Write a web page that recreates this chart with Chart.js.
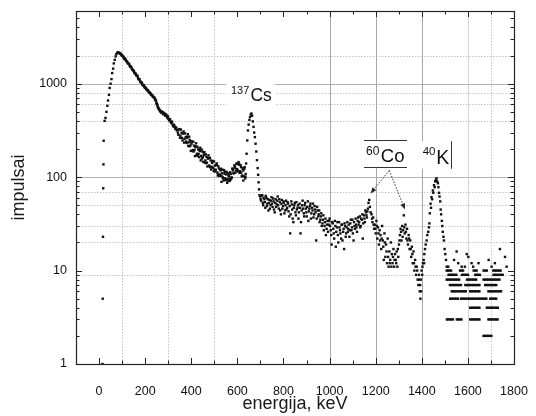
<!DOCTYPE html>
<html><head><meta charset="utf-8">
<script src="https://cdn.jsdelivr.net/npm/chart.js@4.4.1/dist/chart.umd.min.js"></script>
<style>html,body{margin:0;padding:0;background:#fff;}canvas{display:block;}</style>
</head><body>
<canvas id="c" width="536" height="416"></canvas>
<script>
// ---------- tick / grid values ----------
const xTickValues = [0,200,400,600,800,1000,1200,1400,1600,1800];
const xMinorTickValues = [-100,100,300,500,700,900,1100,1300,1500,1700];
const yTickValues = [1,10,100,1000];
const yMinorTickValues = [2,3,4,5,6,7,8,9,20,30,40,50,60,70,80,90,200,300,400,500,600,700,800,900,2000,3000,4000,5000];
const xGridSolid = [1000,1200,1400];
const xGridLight = [1600];
const xGridDotted = [100,300,500,1700];
const yGridSolid = [100,1000];
const yGridDotted = [2000,800,600,400,70,50,30,20,9];

// ---------- spectrum data [energy keV, counts] ----------
const riseData = [[15,1],[16,5],[17,23],[18,76],[19,137],[20,245],[24,400],[28,430],[32,500],[36,580],[39,661],[43,760],[46,900],[50,1000],[54,1120],[57,1300],[61,1450],[64,1650],[68,1800],[72,1960],[75,2070],[79,2140]];
const comptonData = [[82,2170],[86,2150],[90,2110],[95,2080],[99,2000],[104,1970],[108,1880],[113,1860],[117,1770],[122,1720],[126,1650],[131,1610],[135,1520],[140,1500],[144,1420],[149,1390],[153,1310],[158,1290],[162,1230],[167,1210],[171,1120],[176,1110],[180,1040],[185,1030],[189,970],[194,965],[198,915],[203,905],[207,860],[212,855],[216,815],[221,800],[225,770],[230,755],[234,725],[239,715],[243,680],[247,660],[250,610],[253,590],[256,555],[260,535],[264,515],[268,500],[272,505],[277,480],[281,488],[286,460],[290,470],[295,440],[299,447],[304,405],[308,418],[313,380],[317,392],[322,350],[326,362],[331,328],[335,340],[340,318],[344,284],[349,327],[353,278],[358,299],[362,247],[367,308],[371,256],[376,269],[380,232],[385,288],[389,236],[394,250],[398,191],[403,241],[407,195],[412,217],[416,168],[421,230],[425,178],[430,198],[434,164],[439,206],[443,169],[448,188],[452,146],[457,185],[461,151],[466,165],[470,130],[475,171],[479,131],[484,151],[488,129],[493,149],[497,116],[502,133],[506,120],[511,140],[515,104],[520,124],[524,106],[529,123],[531,89],[533,110],[538,97],[542,119],[547,97],[551,107],[556,87],[560,110],[565,96],[569,113],[574,99],[578,123],[583,110],[587,134],[592,112],[596,140],[601,118],[605,145],[610,111],[614,134],[619,102],[623,123],[626,92],[630,123],[634,97],[636,108]];
const comptonDataB = [[88,2130],[92,2100],[97,2030],[101,1990],[106,1920],[110,1840],[115,1800],[119,1740],[124,1670],[128,1640],[133,1560],[137,1530],[142,1450],[146,1400],[151,1360],[155,1300],[160,1250],[164,1220],[169,1150],[173,1120],[178,1060],[182,1040],[187,995],[191,960],[196,935],[200,900],[205,880],[209,850],[214,830],[218,800],[223,785],[227,760],[232,740],[236,720],[241,700],[245,665],[249,625],[252,600],[255,565],[258,545],[262,525],[266,505],[270,490],[275,495],[279,470],[283,482],[288,455],[292,462],[297,430],[301,420],[306,412],[310,395],[315,385],[319,365],[324,356],[328,345],[333,335],[337,318],[342,299],[346,324],[351,264],[355,323],[360,263],[364,292],[369,234],[373,294],[378,240],[382,270],[387,216],[391,271],[396,217],[400,240],[405,191],[409,239],[414,195],[418,209],[423,171],[427,211],[432,177],[436,195],[441,151],[445,197],[450,163],[454,183],[459,143],[463,175],[468,143],[472,160],[477,133],[481,161],[486,121],[490,142],[495,126],[499,147],[504,115],[508,134],[513,112],[517,131],[522,103],[526,121],[531,103],[535,120],[540,92],[544,109],[549,93],[553,114],[558,92],[562,105],[567,91],[571,108],[576,99],[580,123],[585,110],[589,129],[594,118],[598,138],[603,115],[607,140],[612,116],[616,128],[621,104],[625,125],[628,102],[632,128]];
const comptonDataC = [[383,262],[392,214],[401,228],[410,188],[419,214],[428,170],[437,190],[446,158],[455,172],[464,141],[473,158],[482,128],[491,147],[500,120],[509,137],[518,108],[527,118],[536,100],[545,114],[554,95],[563,102],[572,95],[581,118],[590,126],[599,122],[608,136],[617,112],[626,118],[635,101]];
const csPeakData = [[638,140],[640,178],[643,247],[646,316],[649,365],[652,410],[655,440],[658,468],[661,480],[664,455],[667,395],[670,345],[673,300],[676,268],[679,228],[682,188],[685,152],[688,125],[690,106],[692,88],[694,74],[696,64]];
const plateauData = [[699,62],[703,56],[708,64],[712,50],[717,58],[721,47],[726,60],[730,52],[735,44],[739,57],[744,50],[748,61],[753,48],[757,55],[762,42],[766,58],[771,51],[775,62],[780,46],[784,54],[789,40],[793,57],[798,49],[802,53],[807,44],[811,56],[816,47],[820,52],[825,38],[829,25],[834,55],[838,45],[843,33],[847,50],[852,42],[856,54],[861,47],[865,36],[870,52],[874,25],[879,44],[883,56],[888,41],[892,50],[897,46],[901,38],[906,55],[910,43],[915,49],[919,36],[924,47],[928,52],[933,40],[937,45],[942,21],[946,48],[951,38],[955,44],[960,35],[964,41],[969,32],[973,39],[978,30],[982,36],[987,28],[991,34],[996,31],[1000,36],[1005,27],[1009,19],[1014,32],[1018,25],[1023,34],[1027,18],[1032,29],[1036,24],[1041,33],[1045,27],[1050,22],[1054,31],[1059,26],[1063,17],[1068,30],[1072,25],[1077,33],[1081,28],[1086,23],[1090,32],[1095,27],[1099,35],[1104,21],[1108,30],[1113,36],[1117,29],[1122,34],[1126,31],[1131,38],[1135,30],[1140,35],[1144,22],[1149,39],[1153,33],[1158,42],[1162,37],[1166,46],[1169,53],[1172,57],[1175,48],[1178,42]];
const plateauDataB = [[701,58],[705,63],[710,53],[714,60],[719,54],[723,63],[728,49],[732,58],[737,53],[741,46],[746,56],[750,52],[755,59],[759,45],[764,53],[768,48],[773,56],[777,50],[782,58],[786,44],[791,52],[795,46],[800,55],[804,41],[809,50],[813,45],[818,54],[822,43],[827,49],[831,40],[836,51],[840,36],[845,47],[849,53],[854,39],[858,45],[863,50],[867,42],[872,47],[876,33],[881,50],[885,46],[890,38],[894,53],[899,42],[903,48],[908,34],[912,46],[917,52],[921,41],[926,44],[930,37],[935,49],[939,42],[944,36],[948,44],[953,40],[957,33],[962,38],[966,30],[971,35],[975,27],[980,33],[984,24],[989,31],[993,26],[998,34],[1002,30],[1007,24],[1011,33],[1016,28],[1020,22],[1025,30],[1029,26],[1034,33],[1038,20],[1043,29],[1047,25],[1052,31],[1056,21],[1061,28],[1065,32],[1070,23],[1074,29],[1079,26],[1083,31],[1088,27],[1092,35],[1097,29],[1101,25],[1106,33],[1110,28],[1115,31],[1119,26],[1124,37],[1128,33],[1133,29],[1137,36],[1142,40],[1146,32],[1151,36],[1155,44],[1160,39],[1164,43]];
const coRegionData = [[1182,40],[1186,33],[1189,37],[1193,28],[1196,31],[1200,25],[1203,34],[1207,22],[1210,29],[1214,19],[1217,27],[1221,24],[1224,17],[1228,30],[1231,21],[1235,13],[1238,25],[1242,14],[1245,19],[1249,12],[1252,22],[1256,11],[1259,16],[1263,13],[1266,20],[1270,15],[1273,12],[1277,17],[1280,11],[1284,15],[1287,13],[1291,16],[1294,11],[1298,14],[1301,19],[1305,24],[1308,28],[1312,21],[1315,30],[1319,27],[1322,39],[1326,25],[1329,31],[1333,22],[1336,28],[1340,19],[1343,24],[1347,17],[1350,21],[1354,14],[1357,18],[1361,12],[1364,16],[1368,10],[1371,13],[1375,9],[1378,11],[1382,8],[1385,7],[1388,9],[1391,6],[1394,5],[1396,8],[1399,10],[1402,9],[1405,12],[1408,13],[1411,15]];
const coRegionDataB = [[1184,36],[1191,31],[1198,28],[1205,30],[1212,25],[1219,21],[1226,22],[1233,18],[1240,20],[1247,16],[1254,14],[1261,12],[1268,11],[1275,14],[1282,13],[1289,12],[1296,17],[1303,21],[1310,26],[1317,23],[1324,29],[1331,26],[1338,21],[1345,22],[1352,17],[1359,15],[1366,12],[1373,11],[1380,10],[1387,8],[1393,7],[1397,6],[1403,11],[1410,12]];
const kPeakData = [[1414,17],[1417,19],[1421,21],[1424,24],[1428,26],[1431,29],[1433,32],[1435,41],[1438,52],[1440,47],[1442,61],[1445,58],[1448,72],[1450,68],[1453,82],[1456,78],[1458,90],[1461,93],[1464,97],[1467,90],[1470,86],[1472,78],[1475,68],[1477,62],[1480,55],[1482,45],[1484,40],[1487,34],[1489,30],[1491,26],[1494,23],[1496,21],[1499,17],[1502,15],[1505,13],[1508,11]];
// low-count tail: counts level and the energies where that count occurs
const tailCounts = [17,16,15,14,13,12,11,10,9,8,7,6,5,4,3,2];
const tailEnergies = [
  [1739],
  [1551],
  [1595],
  [1602,1761],
  [1540,1690],
  [1558,1616,1646,1717],
  [1515,1573,1587,1623,1703,1768],
  [1508,1514,1520,1527,1566,1572,1579,1625,1631,1638,1668,1675,1682,1710,1716,1722,1729,1735,1742],
  [1516,1522,1528,1535,1542,1550,1574,1580,1587,1594,1600,1632,1638,1645,1652,1711,1717,1724,1731,1738,1745,1751],
  [1508,1514,1520,1527,1534,1541,1548,1555,1562,1596,1602,1609,1616,1623,1630,1636,1668,1674,1681,1688,1695,1702,1709,1716,1723,1730,1737],
  [1522,1528,1535,1542,1549,1556,1563,1570,1589,1595,1602,1609,1616,1623,1630,1637,1644,1650,1675,1681,1688,1695,1702,1709,1716,1723],
  [1530,1536,1543,1550,1557,1564,1571,1578,1585,1591,1610,1616,1623,1630,1637,1644,1650,1689,1695,1702,1709,1716,1723,1730,1737,1744],
  [1523,1529,1536,1543,1550,1557,1570,1576,1583,1590,1597,1604,1611,1618,1625,1631,1640,1646,1653,1660,1667,1674,1680,1697,1703,1710,1717,1723],
  [1610,1616,1623,1630,1637,1644,1650,1682,1688,1695,1702,1709,1716,1723,1730],
  [1509,1515,1522,1529,1535,1552,1558,1565,1572,1610,1616,1623,1630,1637,1644,1650,1689,1695,1702,1709,1716,1723,1729],
  [1668,1674,1681,1688,1695,1702]
];

// ---------- annotation anchors (data space) ----------
const csLabel = {sup:'137', main:'Cs', e:572, v:650};
const coLabel = {sup:'60', main:'Co', e:1158, v:147};
const kLabel = {sup:'40', main:'K', e:1404, v:139};
const coArrowFrom = {e:1259, v:118};
const coArrowTips = [{e:1178, v:67},{e:1327, v:45}];

const FONT = '"Liberation Sans", Arial, sans-serif';

const points = [];
[riseData, comptonData, comptonDataB, comptonDataC, csPeakData, plateauData, plateauDataB, coRegionData, coRegionDataB, kPeakData].forEach(seg =>
  seg.forEach(([e, c]) => points.push({x: e, y: c})));
tailCounts.forEach((c, i) => tailEnergies[i].forEach(e => points.push({x: e, y: c})));

const framePlugin = {
  id: 'frameGrid',
  beforeDatasetsDraw(chart) {
    const {ctx, chartArea: a, scales: {x, y}} = chart;
    ctx.save();
    ctx.lineWidth = 1;
    const vline = (val, color, dash) => {
      const px = Math.round(x.getPixelForValue(val)) + 0.5;
      ctx.strokeStyle = color; ctx.setLineDash(dash);
      ctx.beginPath(); ctx.moveTo(px, a.top); ctx.lineTo(px, a.bottom); ctx.stroke();
    };
    const hline = (val, color, dash) => {
      const py = Math.round(y.getPixelForValue(val)) + 0.5;
      ctx.strokeStyle = color; ctx.setLineDash(dash);
      ctx.beginPath(); ctx.moveTo(a.left, py); ctx.lineTo(a.right, py); ctx.stroke();
    };
    yGridDotted.forEach(v => hline(v, '#c4c4c4', [1.5, 1.5]));
    xGridDotted.forEach(v => vline(v, '#c4c4c4', [1.5, 1.5]));
    yGridSolid.forEach(v => hline(v, '#b4b4b4', []));
    xGridLight.forEach(v => vline(v, '#d4d4d4', []));
    xGridSolid.forEach(v => vline(v, '#a8a8a8', []));
    ctx.restore();
  },
  afterDatasetsDraw(chart) {
    const {ctx, chartArea: a, scales: {x, y}} = chart;
    ctx.save();
    const label = (L, supSize, mainSize, rise, gap, box) => {
      const px = x.getPixelForValue(L.e), py = y.getPixelForValue(L.v);
      ctx.font = supSize + 'px ' + FONT;
      const ws = ctx.measureText(L.sup).width;
      ctx.font = mainSize + 'px ' + FONT;
      const wm = ctx.measureText(L.main).width;
      const w = ws + gap + wm;
      ctx.fillStyle = '#fff';
      ctx.fillRect(px - box[0], py - box[2], w + box[0] + box[1], box[2] + box[3]);
      ctx.fillStyle = '#111';
      ctx.textBaseline = 'alphabetic'; ctx.textAlign = 'left';
      ctx.font = supSize + 'px ' + FONT;
      ctx.fillText(L.sup, px, py - rise);
      ctx.font = mainSize + 'px ' + FONT;
      ctx.fillText(L.main, px + ws + gap, py);
      return {px, py, w};
    };
    label(csLabel, 11, 17.5, 7.4, 1.2, [4.5, 3, 23, 6]);
    const co = label(coLabel, 12, 18.5, 7, 1.5, [2, 2.5, 22, 6.5]);
    ctx.strokeStyle = '#333'; ctx.lineWidth = 1; ctx.setLineDash([]);
    ctx.beginPath();
    const l0 = co.px - 2, l1 = co.px + co.w + 2.5;
    ctx.moveTo(l0, Math.round(co.py - 22) + 0.5); ctx.lineTo(l1, Math.round(co.py - 22) + 0.5);
    ctx.moveTo(l0, Math.round(co.py + 6.5) - 0.5); ctx.lineTo(l1, Math.round(co.py + 6.5) - 0.5);
    ctx.stroke();
    const k = label(kLabel, 11.5, 19.5, 8.3, 0.8, [2.5, 2, 22.6, 5]);
    ctx.beginPath();
    const bx = Math.round(k.px + k.w + 1.5) + 0.5;
    ctx.moveTo(bx, k.py - 22.6); ctx.lineTo(bx, k.py + 5); ctx.stroke();
    const ox = x.getPixelForValue(coArrowFrom.e), oy = y.getPixelForValue(coArrowFrom.v);
    coArrowTips.forEach(t => {
      const tx = x.getPixelForValue(t.e), ty = y.getPixelForValue(t.v);
      const ang = Math.atan2(ty - oy, tx - ox);
      const hl = 6, hw = 2.4;
      const bxp = tx - hl * Math.cos(ang), byp = ty - hl * Math.sin(ang);
      ctx.strokeStyle = '#222'; ctx.lineWidth = 0.9; ctx.setLineDash([1.5, 1.5]);
      ctx.beginPath(); ctx.moveTo(ox, oy); ctx.lineTo(bxp, byp); ctx.stroke();
      ctx.setLineDash([]); ctx.fillStyle = '#222';
      ctx.beginPath(); ctx.moveTo(tx, ty);
      ctx.lineTo(bxp + hw * Math.sin(ang), byp - hw * Math.cos(ang));
      ctx.lineTo(bxp - hw * Math.sin(ang), byp + hw * Math.cos(ang));
      ctx.closePath(); ctx.fill();
    });
    ctx.setLineDash([]);
    ctx.strokeStyle = '#222'; ctx.lineWidth = 1.2;
    ctx.strokeRect(Math.round(a.left) + 0.5, Math.round(a.top) + 0.5, Math.round(a.right - a.left), Math.round(a.bottom - a.top));
    ctx.lineWidth = 1;
    ctx.beginPath();
    const xt = (v, len) => {
      const px = Math.round(x.getPixelForValue(v)) + 0.5;
      ctx.moveTo(px, a.bottom); ctx.lineTo(px, a.bottom - len);
      ctx.moveTo(px, a.top); ctx.lineTo(px, a.top + len);
    };
    const yt = (v, len) => {
      const py = Math.round(y.getPixelForValue(v)) + 0.5;
      ctx.moveTo(a.left, py); ctx.lineTo(a.left + len, py);
      ctx.moveTo(a.right, py); ctx.lineTo(a.right - len, py);
    };
    xTickValues.forEach(v => xt(v, 6));
    xMinorTickValues.forEach(v => xt(v, 3.5));
    yTickValues.forEach(v => yt(v, 6));
    yMinorTickValues.forEach(v => yt(v, 3.5));
    ctx.stroke();
    ctx.restore();
  }
};

new Chart(document.getElementById('c'), {
  type: 'scatter',
  data: {
    datasets: [{
      data: points,
      pointStyle: 'rect',
      pointRadius: 1.7,
      pointBorderWidth: 0,
      borderWidth: 0,
      backgroundColor: '#111',
      borderColor: '#111'
    }]
  },
  options: {
    responsive: false,
    animation: false,
    events: [],
    layout: {padding: {left: 0, right: 22, top: 11, bottom: 0}},
    plugins: {legend: {display: false}, tooltip: {enabled: false}},
    scales: {
      x: {
        type: 'linear', min: -100, max: 1800,
        grid: {display: false, drawTicks: true, tickLength: 20},
        border: {display: false},
        afterBuildTicks: s => { s.ticks = xTickValues.map(v => ({value: v})); },
        afterFit: s => { s.height = 52; },
        ticks: {autoSkip: false, maxRotation: 0, padding: 0, color: '#111', font: {family: FONT, size: 12.5}, callback: v => String(v)},
        title: {display: true, text: 'energija, keV', color: '#1a1a1a', font: {family: FONT, size: 18}, padding: {top: 0, bottom: 1}}
      },
      y: {
        type: 'logarithmic', min: 1, max: 6000,
        grid: {display: false, drawTicks: true, tickLength: 9},
        border: {display: false},
        afterBuildTicks: s => { s.ticks = yTickValues.map(v => ({value: v})); },
        afterFit: s => { s.width = 76; },
        ticks: {autoSkip: false, padding: 0, color: '#111', font: {family: FONT, size: 12.5}, callback: v => String(v)},
        title: {display: true, text: 'impulsai', color: '#1a1a1a', font: {family: FONT, size: 18}, padding: {top: 8, bottom: 0}}
      }
    }
  },
  plugins: [framePlugin]
});
</script>
</body></html>
